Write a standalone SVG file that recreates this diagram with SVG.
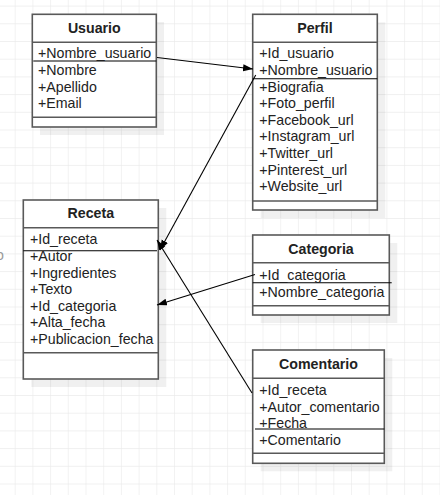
<svg xmlns="http://www.w3.org/2000/svg" width="440" height="495" viewBox="0 0 440 495">
<style>
.box{fill:#fff;stroke:#595959;stroke-width:1.6}
.shadow{fill:#000;fill-opacity:0.06}
.sep{stroke:#595959;stroke-width:1.6;fill:none}
.key{stroke:#000;stroke-width:1.1;fill:none}
.title{font-family:"Liberation Sans",Arial,sans-serif;font-size:14.2px;font-weight:bold;fill:#222;text-anchor:middle}
.attr{font-family:"Liberation Sans",Arial,sans-serif;font-size:14.2px;fill:#222}
.conn{stroke:#000;stroke-width:1.1;fill:none;marker-end:url(#arrow)}
</style>
<defs>
<pattern id="grid" patternUnits="userSpaceOnUse" x="14.7" y="5.6" width="17.7" height="17.7">
<path d="M0,0 H17.7 M0,0 V17.7" stroke="#ebebeb" stroke-width="1.3" fill="none"/>
</pattern>
<marker id="arrow" markerUnits="userSpaceOnUse" markerWidth="11" markerHeight="8" refX="10" refY="3.5" orient="auto">
<path d="M0,0 L10,3.5 L0,7 z" fill="#000"/>
</marker>
</defs>
<rect width="440" height="495" fill="#fff"/>
<rect width="440" height="495" fill="url(#grid)"/>
<text class="attr" x="-4" y="260" fill="#999" style="fill:#999">o</text>

<g id="usuario">
<rect class="shadow" x="40" y="22" width="124" height="113"/>
<rect class="box" x="32.3" y="14.3" width="124" height="112.7"/>
<line class="sep" x1="32.3" y1="42.3" x2="156.3" y2="42.3"/>
<line class="key" x1="33.3" y1="61" x2="156.3" y2="61"/>
<line class="sep" x1="32.3" y1="117.3" x2="156.3" y2="117.3"/>
<text class="title" x="94.3" y="33.3">Usuario</text>
<text class="attr" x="38" y="58.3">+Nombre_usuario</text>
<text class="attr" x="38" y="75">+Nombre</text>
<text class="attr" x="38" y="91.6">+Apellido</text>
<text class="attr" x="38" y="108.2">+Email</text>
</g>

<g id="perfil">
<rect class="shadow" x="260.7" y="22.3" width="124.6" height="195.7"/>
<rect class="box" x="252.7" y="14.3" width="124.6" height="195.7"/>
<line class="sep" x1="252.7" y1="42.3" x2="377.3" y2="42.3"/>
<line class="key" x1="252.7" y1="78.7" x2="377.3" y2="78.7"/>
<line class="sep" x1="252.7" y1="201" x2="377.3" y2="201"/>
<text class="title" x="315" y="33.3">Perfil</text>
<text class="attr" x="259.3" y="58.3">+Id_usuario</text>
<text class="attr" x="259.3" y="74.9">+Nombre_usuario</text>
<text class="attr" x="259.3" y="91.5">+Biografia</text>
<text class="attr" x="259.3" y="108.1">+Foto_perfil</text>
<text class="attr" x="259.3" y="124.7">+Facebook_url</text>
<text class="attr" x="259.3" y="141.3">+Instagram_url</text>
<text class="attr" x="259.3" y="157.9">+Twitter_url</text>
<text class="attr" x="259.3" y="174.5">+Pinterest_url</text>
<text class="attr" x="259.3" y="191.1">+Website_url</text>
</g>

<g id="receta">
<rect class="shadow" x="31.3" y="208" width="135" height="179"/>
<rect class="box" x="23.3" y="200" width="135" height="179"/>
<line class="sep" x1="23.3" y1="227.7" x2="158.3" y2="227.7"/>
<line class="key" x1="23.3" y1="250.7" x2="157" y2="250.7"/>
<line class="sep" x1="23.3" y1="352.7" x2="158.3" y2="352.7"/>
<text class="title" x="90.8" y="218.3">Receta</text>
<text class="attr" x="30" y="244.3">+Id_receta</text>
<text class="attr" x="30" y="260.9">+Autor</text>
<text class="attr" x="30" y="277.5">+Ingredientes</text>
<text class="attr" x="30" y="294.1">+Texto</text>
<text class="attr" x="30" y="310.7">+Id_categoria</text>
<text class="attr" x="30" y="327.3">+Alta_fecha</text>
<text class="attr" x="30" y="343.9">+Publicacion_fecha</text>
</g>

<g id="categoria">
<rect class="shadow" x="260.7" y="243" width="136.6" height="80"/>
<rect class="box" x="252.7" y="235" width="136.6" height="80"/>
<line class="sep" x1="252.7" y1="262.7" x2="389.3" y2="262.7"/>
<line class="key" x1="252.7" y1="282.7" x2="391.7" y2="282.7"/>
<line class="sep" x1="252.7" y1="305.7" x2="389.3" y2="305.7"/>
<text class="title" x="321" y="254.3">Categoria</text>
<text class="attr" x="259.3" y="280">+Id_categoria</text>
<text class="attr" x="259.3" y="296.6">+Nombre_categoria</text>
</g>

<g id="comentario">
<rect class="shadow" x="260.7" y="358" width="131.6" height="113.3"/>
<rect class="box" x="252.7" y="350" width="131.6" height="113.3"/>
<line class="sep" x1="252.7" y1="378.3" x2="384.3" y2="378.3"/>
<line class="key" x1="255" y1="429" x2="384.3" y2="429"/>
<line class="sep" x1="252.7" y1="453.3" x2="384.3" y2="453.3"/>
<text class="title" x="318.5" y="369.3">Comentario</text>
<text class="attr" x="259.3" y="395">+Id_receta</text>
<text class="attr" x="259.3" y="411.6">+Autor_comentario</text>
<text class="attr" x="259.3" y="428.2">+Fecha</text>
<text class="attr" x="259.3" y="444.8">+Comentario</text>
</g>

<g id="connectors">
<line class="conn" x1="157" y1="57.5" x2="253" y2="69"/>
<line class="conn" x1="255.7" y1="75" x2="160" y2="250"/>
<line class="conn" x1="255" y1="274.5" x2="157" y2="305"/>
<line class="conn" x1="252" y1="393" x2="157" y2="240"/>
</g>
</svg>
